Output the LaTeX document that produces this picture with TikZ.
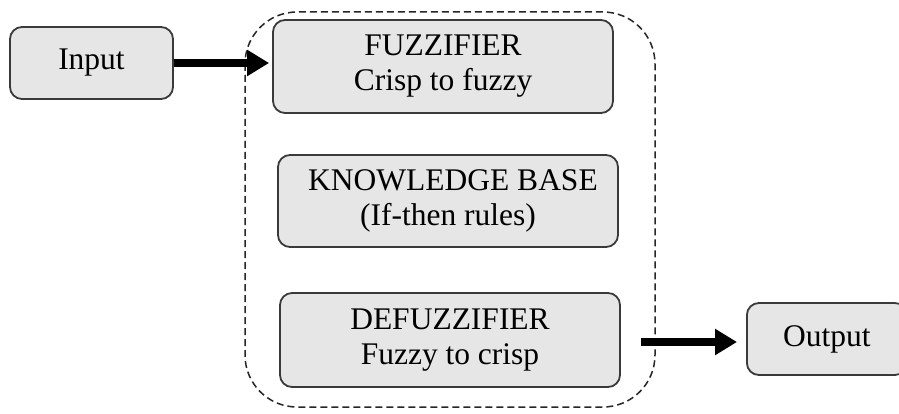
\documentclass[tikz,border=0pt]{standalone}
\usepackage{fontspec}
\setmainfont{Liberation Serif}
\usetikzlibrary{arrows.meta}
\definecolor{boxfill}{HTML}{E6E6E6}
\definecolor{boxline}{HTML}{3A3A3A}
\tikzset{
  blk/.style={draw=boxline, line width=1.8pt, fill=boxfill, rounded corners=12pt,
    align=center, inner sep=0pt, font=\fontsize{31.5}{35}\selectfont},
  arr/.style={line width=8pt, -{Triangle[length=22pt,width=25pt]}},
  sysbox/.style={draw=black!85, line width=1.5pt, dash pattern=on 7pt off 4pt, rounded corners=52pt}
}
\begin{document}
\begin{tikzpicture}[x=1pt,y=-1pt]
\useasboundingbox (0,0) rectangle (899,414);
\clip (0,0) rectangle (899,414);
\fill[white] (0,0) rectangle (899,414);
\draw[sysbox] (245,12) rectangle (655,407);
\node[blk, minimum width=163pt, minimum height=72pt] (input) at (91.5,63) {Input};
\node[blk, minimum width=340pt, minimum height=93pt] (fuzz) at (443,66.5) {FUZZIFIER\\Crisp to fuzzy};
\node[blk, minimum width=340pt, minimum height=92pt] (kb) at (448,201) {\hspace*{10pt}KNOWLEDGE BASE\\(If-then rules)};
\node[blk, minimum width=340pt, minimum height=94pt] (defuzz) at (450,340) {DEFUZZIFIER\\Fuzzy to crisp};
\node[blk, minimum width=160pt, minimum height=72pt, anchor=west] (output) at (746,339) {Output};
\draw[arr, shorten >=3pt] (input.east) -- (input.east -| fuzz.west);
\draw[arr, shorten <=20pt, shorten >=9pt] ([yshift=-2pt]defuzz.east) -- ([yshift=-2pt]defuzz.east -| output.west);
\end{tikzpicture}
\end{document}
